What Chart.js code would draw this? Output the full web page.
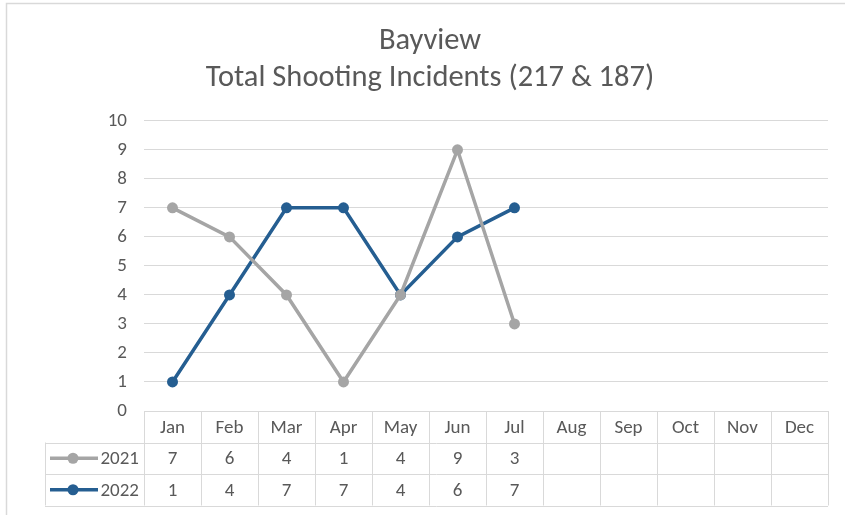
<!DOCTYPE html>
<html>
<head>
<meta charset="utf-8">
<script src="https://cdn.jsdelivr.net/npm/chart.js@4"></script>
<style>
  html, body { margin: 0; padding: 0; background: #fff; }
  #wrap { width: 845px; height: 515px; position: relative; }
</style>
</head>
<body>
<div id="wrap"><canvas id="chart" width="845" height="515"></canvas></div>
<script>
const months = ["Jan", "Feb", "Mar", "Apr", "May", "Jun", "Jul", "Aug", "Sep", "Oct", "Nov", "Dec"];
const incidents2021 = [7, 6, 4, 1, 4, 9, 3, null, null, null, null, null];
const incidents2022 = [1, 4, 7, 7, 4, 6, 7, null, null, null, null, null];
const titleLines = ["Bayview", "Total Shooting Incidents (217 & 187)"];

const textColor = "#595959";
const gridColor = "#d9d9d9";
const fontFamily = "Calibri, Carlito, 'Open Sans', sans-serif";

// frame around the whole chart, like the excel chart area
const frame = {
    id: "frame",
    beforeDraw(chart) {
        const ctx = chart.ctx;
        ctx.save();
        ctx.strokeStyle = gridColor;
        ctx.lineWidth = 1.5;
        ctx.strokeRect(6.5, 3.5, 860, 560);
        ctx.restore();
    }
};

// data table under the plot
const dataTable = {
    id: "dataTable",
    afterDraw(chart) {
        const ctx = chart.ctx;
        const x = chart.scales.x;
        const area = chart.chartArea;
        const top = area.bottom;
        const rowH = 31.5;
        const legendLeft = 45;
        const colW = (area.right - area.left) / months.length;

        ctx.save();
        ctx.strokeStyle = gridColor;
        ctx.lineWidth = 1;

        // horizontal lines
        for (let r = 1; r <= 3; r++) {
            const y = Math.round(top + r * rowH) + 0.5;
            ctx.beginPath();
            ctx.moveTo(legendLeft, y);
            ctx.lineTo(area.right, y);
            ctx.stroke();
        }
        // vertical lines
        for (let c = 0; c <= months.length; c++) {
            const xx = Math.round(area.left + c * colW) + 0.5;
            ctx.beginPath();
            ctx.moveTo(xx, top);
            ctx.lineTo(xx, top + 3 * rowH);
            ctx.stroke();
        }
        ctx.beginPath();
        ctx.moveTo(legendLeft + 0.5, top + rowH);
        ctx.lineTo(legendLeft + 0.5, top + 3 * rowH);
        ctx.stroke();

        ctx.fillStyle = textColor;
        ctx.font = "19px " + fontFamily;
        ctx.textAlign = "center";
        ctx.textBaseline = "middle";
        months.forEach((m, i) => {
            const cx = x.getPixelForValue(i);
            ctx.fillText(m, cx, top + rowH / 2 + 1);
            const a = incidents2021[i];
            const b = incidents2022[i];
            if (a !== null) ctx.fillText(String(a), cx, top + rowH * 1.5 + 1);
            if (b !== null) ctx.fillText(String(b), cx, top + rowH * 2.5 + 1);
        });

        // legend keys
        chart.data.datasets.forEach((ds, i) => {
            const cy = top + rowH * (1.5 + i);
            ctx.strokeStyle = ds.borderColor;
            ctx.lineWidth = 3.5;
            ctx.beginPath();
            ctx.moveTo(50, cy);
            ctx.lineTo(98, cy);
            ctx.stroke();
            ctx.fillStyle = ds.borderColor;
            ctx.beginPath();
            ctx.arc(73, cy, 5.5, 0, Math.PI * 2);
            ctx.fill();
            ctx.fillStyle = textColor;
            ctx.textAlign = "right";
            ctx.fillText(ds.label, 139, cy + 1);
        });
        ctx.restore();
    }
};

new Chart(document.getElementById("chart"), {
    type: "line",
    data: {
        labels: months,
        datasets: [
            {
                label: "2021",
                data: incidents2021,
                borderColor: "#a5a5a5",
                backgroundColor: "#a5a5a5",
                borderWidth: 3.5,
                pointRadius: 5.5,
                pointBackgroundColor: "#a5a5a5",
                pointBorderWidth: 0,
                tension: 0
            },
            {
                label: "2022",
                data: incidents2022,
                borderColor: "#255e91",
                backgroundColor: "#255e91",
                borderWidth: 3.5,
                pointRadius: 5.5,
                pointBackgroundColor: "#255e91",
                pointBorderWidth: 0,
                tension: 0
            }
        ]
    },
    options: {
        responsive: false,
        animation: false,
        layout: {
            padding: { left: 32, right: 17, top: 0, bottom: 104 }
        },
        plugins: {
            legend: { display: false },
            tooltip: { enabled: false },
            title: {
                display: true,
                text: titleLines,
                color: textColor,
                font: { family: fontFamily, size: 30.5, weight: "normal", lineHeight: 1.21 },
                padding: { top: 23, bottom: 24 }
            }
        },
        scales: {
            x: {
                display: false,
                offset: true
            },
            y: {
                min: 0,
                max: 10,
                afterFit(scale) { scale.width = 112; },
                border: { display: false },
                grid: { color: gridColor, lineWidth: 1, drawTicks: false },
                ticks: {
                    stepSize: 1,
                    padding: 17,
                    color: textColor,
                    font: { family: fontFamily, size: 19 }
                }
            }
        }
    },
    plugins: [frame, dataTable]
});
</script>
</body>
</html>
